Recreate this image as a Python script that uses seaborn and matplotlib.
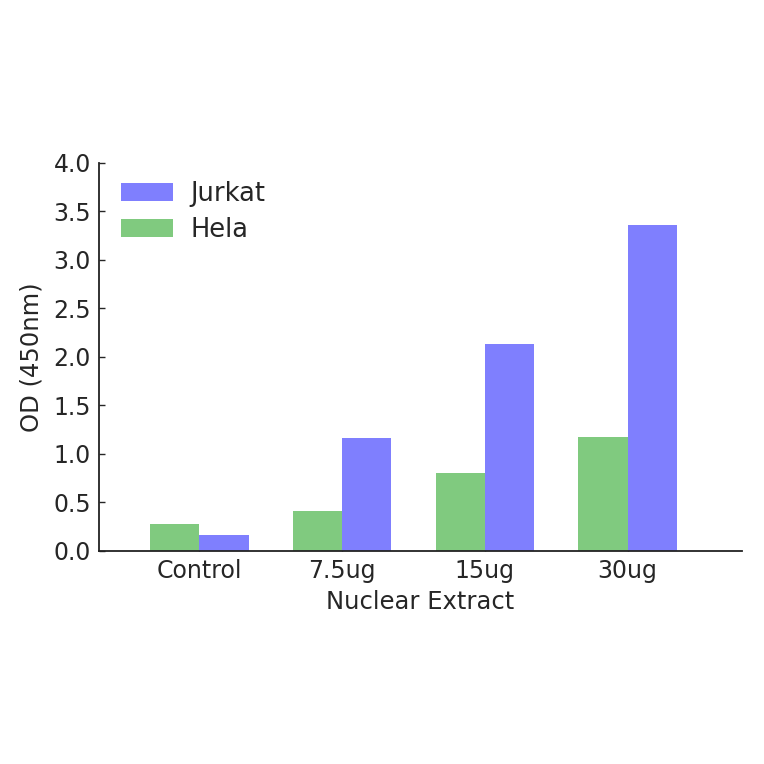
import matplotlib
matplotlib.use("Agg")
import matplotlib.pyplot as plt
import pandas as pd
import seaborn as sns

groups = ["Control", "7.5ug", "15ug", "30ug"]
hela = [0.275, 0.415, 0.80, 1.175]
jurkat = [0.16, 1.16, 2.13, 3.36]

df = pd.DataFrame({
    "group": groups * 2,
    "od": hela + jurkat,
    "line": ["Hela"] * 4 + ["Jurkat"] * 4,
})

sns.set_style("white")
plt.rcParams["font.family"] = ["DejaVu Sans"]
plt.rcParams["text.color"] = "#262626"
plt.rcParams["axes.labelcolor"] = "#262626"
plt.rcParams["xtick.color"] = "#262626"
plt.rcParams["ytick.color"] = "#262626"

fig = plt.figure(figsize=(7.64, 7.64), dpi=100)
ax = fig.add_axes([0.130, 0.279, 0.841, 0.508])

sns.barplot(data=df, x="group", y="od", hue="line", order=groups,
            hue_order=["Hela", "Jurkat"],
            palette={"Hela": "#80ca7f", "Jurkat": "#7f7ffe"},
            width=0.69, gap=0, linewidth=0, saturation=1, ax=ax)

ax.set_xlim(-0.7, 3.8)
ax.set_ylim(0, 4.0)
ax.set_yticks([0, 0.5, 1.0, 1.5, 2.0, 2.5, 3.0, 3.5, 4.0])
ax.set_yticklabels(["0.0", "0.5", "1.0", "1.5", "2.0", "2.5", "3.0", "3.5", "4.0"])
ax.set_xlabel("Nuclear Extract", fontsize=17.5, labelpad=5)
ax.set_ylabel("OD (450nm)", fontsize=17.5, labelpad=7)
ax.tick_params(axis="both", labelsize=17, direction="in", length=4, width=1,
               left=True, bottom=True, pad=6)

sns.despine(ax=ax)
for s in ["left", "bottom"]:
    ax.spines[s].set_linewidth(1.3)
    ax.spines[s].set_color("#222222")

handles, labels = ax.get_legend_handles_labels()
order = [labels.index("Jurkat"), labels.index("Hela")]
ax.legend([handles[i] for i in order], [labels[i] for i in order],
          loc="upper left", bbox_to_anchor=(0.0, 1.01), frameon=False,
          fontsize=18.5, handlelength=2.0, handleheight=0.7,
          handletextpad=0.7, borderaxespad=0.45, labelspacing=0.4)

fig.savefig("out.png", dpi=100)
